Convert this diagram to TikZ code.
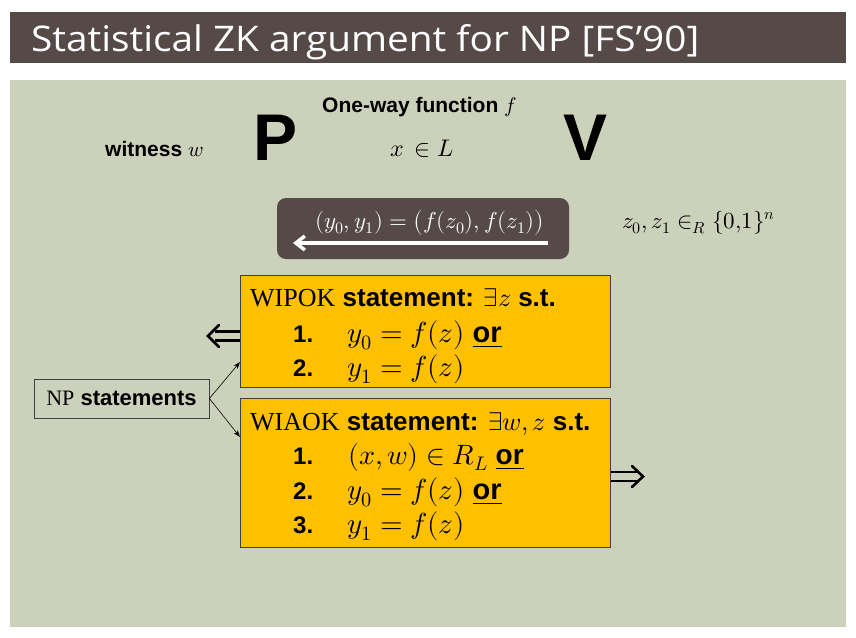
\documentclass[tikz,border=0pt]{standalone}
\usepackage{fontspec}
\usepackage{unicode-math}
\setmainfont{Liberation Sans}
\setmathfont{Latin Modern Math}
\newfontfamily\serifc{Liberation Serif}
\newfontfamily\titlefont{Open Sans}
\usetikzlibrary{arrows.meta}
\definecolor{bar}{HTML}{554A47}
\definecolor{panel}{HTML}{CCD1BB}
\definecolor{gold}{HTML}{FFC000}
\definecolor{edge}{HTML}{404040}
\newcommand{\fs}[1]{\fontsize{#1}{#1}\selectfont}
\begin{document}
\begin{tikzpicture}[x=1pt,y=-1pt,
  txt/.style={inner sep=0pt, anchor=base west},
  goldbox/.style={draw=edge, line width=0.8pt, fill=gold},
  dblarrow/.style={line width=2.6pt, black},
  connector/.style={-{Stealth[length=7pt,width=5pt]}, line width=0.6pt, black}]
\useasboundingbox (0,0) rectangle (856,637);
\fill[white] (0,0) rectangle (856,637);
% title bar
\fill[bar] (10,12) rectangle (846,63);
\node[txt, text=white] (title) at (31,51)
  {\titlefont\resizebox{668pt}{27pt}{Statistical ZK argument for NP [FS’90]}};
% panel
\fill[panel] (10,80) rectangle (846,627);
% header texts
\node[txt] (wit) at (105,156) {\fs{21}\bfseries witness \(w\)};
\node[txt] (P) at (253,160) {\fs{66}\bfseries P};
\node[txt] (V) at (563,160) {\fs{66}\bfseries V};
\node[txt] (owf) at (322,112) {\fs{21}\bfseries One-way function \(f\)};
\node[txt] (xl) at (390,156) {\fs{24}\(x\,\in L\)};
% message box
\node[fill=bar, rounded corners=9pt, minimum width=292pt, minimum height=61pt,
      inner sep=0pt] (msg) at (423,228.5) {};
\node[txt, text=white] (msgtxt) at (315,228) {\fs{23}\((y_0,y_1)=\bigl(f(z_0),f(z_1)\bigr)\)};
\coordinate (ma) at (548,243);
\coordinate (mb) at (293,243);
\draw[white, line width=3.5pt, -{Straight Barb[length=9pt,width=14pt]}] (ma) -- (mb);
\node[txt] (zz) at (622,228) {\fs{23}\(z_0,z_1\in_R\{0{,}1\}^n\)};
% WIPOK box
\draw[goldbox] (240,275) rectangle (610,387);
\node[txt] (wp0) at (250,306) {\fs{26}{\serifc WIPOK} \bfseries statement: \(\exists z\) s.t.};
\node[txt] (wp1n) at (293,342) {\fs{24}\bfseries 1.};
\node[txt] (wp1) at (347,342) {\fs{29}\(y_0=f(z)\) \underline{\bfseries or}};
\node[txt] (wp2n) at (293,376) {\fs{24}\bfseries 2.};
\node[txt] (wp2) at (347,376) {\fs{29}\(y_1=f(z)\)};
% WIAOK box
\draw[goldbox] (240,398) rectangle (610,547);
\node[txt] (wa0) at (250,430) {\fs{26}{\serifc WIAOK} \bfseries statement: \(\exists w,z\) s.t.};
\node[txt] (wa1n) at (293,464) {\fs{24}\bfseries 1.};
\node[txt] (wa1) at (348,464) {\fs{28}\((x,w)\in R_L\) \underline{\bfseries or}};
\node[txt] (wa2n) at (293,499) {\fs{24}\bfseries 2.};
\node[txt] (wa2) at (347,499) {\fs{29}\(y_0=f(z)\) \underline{\bfseries or}};
\node[txt] (wa3n) at (293,533) {\fs{24}\bfseries 3.};
\node[txt] (wa3) at (347,533) {\fs{29}\(y_1=f(z)\)};
% NP statements
\node[draw=edge, line width=0.8pt, fill=panel, minimum width=175pt, minimum height=39pt,
      inner sep=0pt] (np) at (121.5,398.5) {\fs{22}{\serifc NP} \bfseries statements};
\coordinate (t1) at (240,362);
\coordinate (t2) at (240,437);
\draw[connector] (np.east) -- (t1);
\draw[connector] (np.east) -- (t2);
% left double arrow
\coordinate (la1) at (240,331.5);
\coordinate (la2) at (240,340.5);
\coordinate (lt) at (208,336);
\draw[dblarrow] (la1) -- (215,331.5) (la2) -- (215,340.5);
\draw[dblarrow, line cap=round, line join=miter] (219,325) -- (lt) -- (219,347);
% right double arrow
\coordinate (ra1) at (611,472);
\coordinate (ra2) at (611,481);
\coordinate (rt) at (643,476.5);
\draw[dblarrow] (ra1) -- (637,472) (ra2) -- (637,481);
\draw[dblarrow, line cap=round, line join=miter] (632,466) -- (rt) -- (632,487);
\end{tikzpicture}
\end{document}
